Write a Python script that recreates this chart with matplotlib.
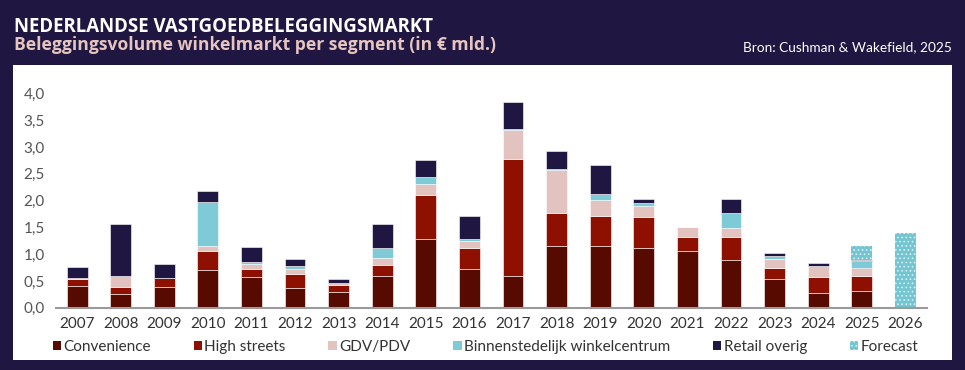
import matplotlib.pyplot as plt
import numpy as np
from matplotlib.patches import Patch, Rectangle

years = ['2007', '2008', '2009', '2010', '2011', '2012', '2013', '2014', '2015', '2016',
         '2017', '2018', '2019', '2020', '2021', '2022', '2023', '2024', '2025', '2026']
convenience = [0.41, 0.25, 0.38, 0.71, 0.58, 0.37, 0.29, 0.60, 1.29, 0.73,
               0.60, 1.15, 1.15, 1.11, 1.06, 0.89, 0.53, 0.28, 0.31, 0.0]
high_streets = [0.12, 0.14, 0.17, 0.35, 0.14, 0.26, 0.14, 0.19, 0.81, 0.39,
                2.17, 0.62, 0.56, 0.58, 0.25, 0.435, 0.22, 0.29, 0.29, 0.0]
gdv_pdv = [0.025, 0.195, 0.0, 0.09, 0.09, 0.10, 0.03, 0.13, 0.21, 0.12,
           0.54, 0.79, 0.30, 0.21, 0.19, 0.165, 0.15, 0.21, 0.15, 0.0]
binnenstedelijk = [0.0, 0.0, 0.0, 0.83, 0.05, 0.04, 0.0, 0.19, 0.13, 0.05,
                   0.02, 0.02, 0.12, 0.06, 0.0, 0.27, 0.06, 0.0, 0.115, 0.0]
retail_overig = [0.21, 0.985, 0.26, 0.20, 0.27, 0.145, 0.08, 0.46, 0.31, 0.43,
                 0.50, 0.34, 0.53, 0.07, 0.0, 0.26, 0.06, 0.05, 0.02, 0.0]
forecast = [0.0] * 18 + [0.26, 1.40]

series = [
    ('Convenience', convenience, '#560a00'),
    ('High streets', high_streets, '#8e1000'),
    ('GDV/PDV', gdv_pdv, '#e3c3c0'),
    ('Binnenstedelijk winkelcentrum', binnenstedelijk, '#7ecbd7'),
    ('Retail overig', retail_overig, '#1f1741'),
]

navy = '#1f1741'
plt.rcParams['font.family'] = ['Lato', 'DejaVu Sans']
plt.rcParams['hatch.linewidth'] = 0.7

fig = plt.figure(figsize=(9.65, 3.7), dpi=100, facecolor=navy)
# white panel behind the chart
fig.patches.append(Rectangle((13 / 965, 1 - 360 / 370), 939 / 965, 295 / 370,
                             transform=fig.transFigure, facecolor='white',
                             edgecolor='none', zorder=-1))

fig.text(14 / 965, 1 - 27 / 370, 'NEDERLANDSE VASTGOEDBELEGGINGSMARKT', color='white',
         fontsize=13.4, fontweight='bold', va='center', ha='left', family='Open Sans')
fig.text(14 / 965, 1 - 45 / 370, 'Beleggingsvolume winkelmarkt per segment (in € mld.)',
         color='#e6c4c0', fontsize=12.6, fontweight='bold', va='center', ha='left',
         family='Open Sans')
fig.text(952 / 965, 1 - 47.5 / 370, 'Bron: Cushman & Wakefield, 2025', color='white',
         fontsize=9.8, va='center', ha='right')

ax = fig.add_axes([55.7 / 965, 1 - 307.7 / 370, 871 / 965, 214.4 / 370], zorder=2)
ax.set_facecolor('none')

x = np.arange(len(years))
width = 0.48
bottom = np.zeros(len(years))
for name, vals, col in series:
    vals = np.array(vals)
    ax.bar(x, vals, width, bottom=bottom, color=col, edgecolor='white', linewidth=0.4,
           label=name)
    bottom += vals
ax.bar(x, forecast, width, bottom=bottom, color='#74c5d2', edgecolor='#d8f0f4',
       linewidth=0.0, hatch='....', label='Forecast')

ax.set_xlim(-0.49, 19.49)
ax.set_ylim(0, 4.0)
ax.set_xticks(x)
ax.set_xticklabels(years)
yt = np.arange(0, 4.01, 0.5)
ax.set_yticks(yt)
ax.set_yticklabels([f'{v:.1f}'.replace('.', ',') for v in yt])
ax.tick_params(axis='y', length=0, pad=8, labelsize=11, labelcolor='#555555')
ax.tick_params(axis='x', length=0, pad=7, labelsize=11, labelcolor='#333333')
for s in ['top', 'right', 'left']:
    ax.spines[s].set_visible(False)
ax.spines['bottom'].set_color('#9a9a9a')
ax.spines['bottom'].set_linewidth(1.5)

handles = [Patch(facecolor=c, label=n) for n, _, c in series]
handles.append(Patch(facecolor='#74c5d2', edgecolor='#d8f0f4', hatch='....', linewidth=0,
                     label='Forecast'))
fig.legend(handles=handles, loc='center left', bbox_to_anchor=(45 / 965, 1 - 347 / 370),
           ncol=6, frameon=False, fontsize=11, handlelength=0.55, handleheight=0.55,
           handletextpad=0.15, columnspacing=2.8, labelcolor='#333333', borderpad=0)

fig.savefig('out.png', dpi=100, facecolor=navy)
